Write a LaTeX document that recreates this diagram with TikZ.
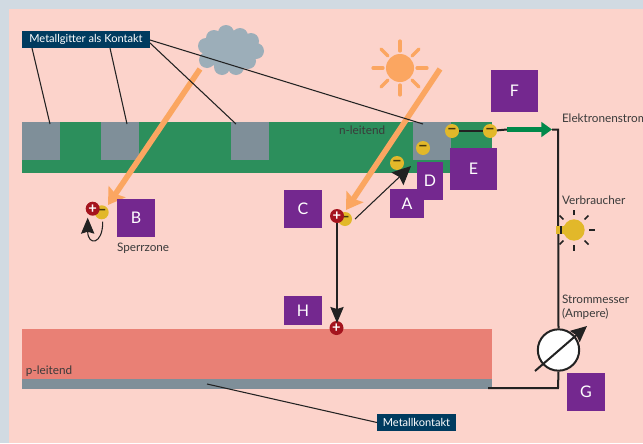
\documentclass[tikz,border=0pt]{standalone}
\usepackage{fontspec}
\setmainfont{Lato}
\usetikzlibrary{arrows.meta}
\definecolor{pagebg}{HTML}{D1DAE2}
\definecolor{pinkbg}{HTML}{FCD3CB}
\definecolor{navy}{HTML}{003B5F}
\definecolor{nlayer}{HTML}{2C8F5C}
\definecolor{metal}{HTML}{7F8F99}
\definecolor{player}{HTML}{E98075}
\definecolor{purp}{HTML}{74288F}
\definecolor{orangeb}{HTML}{FBA661}
\definecolor{cloudc}{HTML}{9CAEB9}
\definecolor{holec}{HTML}{A5141E}
\definecolor{elec}{HTML}{E2B82A}
\definecolor{greenar}{HTML}{00894A}
\definecolor{inkc}{HTML}{222222}
\definecolor{textc}{HTML}{3A3A3A}
\tikzset{
  wh/.style 2 args={minimum width=#1*0.75pt,minimum height=#2*0.75pt,inner sep=0pt,outer sep=0pt},
  letterbox/.style={fill=purp,text=white,font=\fontsize{12}{12}\selectfont},
  navybox/.style={fill=navy,text=white,font=\fontsize{8.3}{8.3}\selectfont},
  capt/.style={anchor=base west,inner sep=0pt,outer sep=0pt,text=textc,font=\fontsize{8.8}{8.8}\selectfont},
  hole/.style={circle,fill=holec,text=white,inner sep=0pt,outer sep=0pt,minimum size=10.5pt,font=\fontsize{11}{11}\selectfont\bfseries},
  electron/.style={circle,fill=elec,text=black!70!elec,inner sep=0pt,outer sep=0pt,minimum size=10.5pt,font=\fontsize{12}{12}\selectfont\bfseries},
  pointer/.style={draw=inkc,line width=0.8pt},
  wire/.style={draw=inkc,line width=1.5pt},
  ray/.style={draw=orangeb,line width=2.4pt,line cap=round},
  bulbray/.style={draw=inkc,line width=1.1pt},
  beam/.style={draw=orangeb,line width=4.2pt,-{Stealth[length=12pt,width=15pt,inset=2pt]}},
  blackhead/.style={-{Stealth[length=12pt,width=10pt,inset=1.5pt,fill=inkc]}},
}
\begin{document}
\begin{tikzpicture}[x=0.75pt,y=-0.75pt]
\useasboundingbox (0,0) rectangle (643,443);
\clip (0,0) rectangle (643,443);
\fill[pagebg] (0,0) rectangle (643,443);
\fill[pinkbg] (9,9) rectangle (643,443);
% layers
\fill[nlayer] (22,122) rectangle (492,173);
\fill[metal] (22,122) rectangle (60,160);
\fill[metal] (101,122) rectangle (139,160);
\fill[metal] (231,122) rectangle (269,160);
\fill[metal] (413,122) rectangle (451,160);
\fill[player] (22,329) rectangle (492,379);
\fill[metal] (22,379) rectangle (492,389);
% cloud
\fill[cloudc] (230,50) ellipse (26 and 20)
  (226,33) circle (8) (240,36) circle (8) (251,41) circle (8) (256,51) circle (8)
  (248,61) circle (8) (236,67) circle (8) (222,67) circle (8) (207,60) circle (8)
  (206,46) circle (8) (214,38) circle (8);
% sun
\fill[orangeb] (400,68) circle (14);
\foreach \a in {0,45,...,315}
  \draw[ray] (400,68) ++(\a:17) -- ++(\a:10);
% beams
\coordinate (beamAs) at (200,69);
\coordinate (beamAe) at (108,205);
\coordinate (beamBs) at (440,69);
\coordinate (beamBe) at (346,210);
\draw[beam] (beamAs) -- (beamAe);
\draw[beam] (beamBs) -- (beamBe);
% label boxes
\node[navybox,wh={128}{17}] (gitter) at (86,39.5) {Metallgitter als Kontakt};
\node[navybox,wh={79}{17}] (kontakt) at (416.5,422.5) {Metallkontakt};
\coordinate (g1) at (50,124);
\coordinate (g2) at (127,124);
\coordinate (g3) at (236,124);
\coordinate (g4) at (423,124);
\coordinate (gs1) at (32,48);
\coordinate (gs2) at (110,48);
\coordinate (gs3) at (150,43);
\coordinate (gs4) at (150,40);
\draw[pointer] (gs1) -- (g1);
\draw[pointer] (gs2) -- (g2);
\draw[pointer] (gs3) -- (g3);
\draw[pointer] (gs4) -- (g4);
\coordinate (mk) at (207,384);
\draw[pointer] (mk) -- (kontakt.west);
% circuit
\node[circle,draw=inkc,fill=white,line width=1.5pt,minimum size=31pt,inner sep=0pt] (meter) at (558.5,350) {};
\node[electron] (e3) at (452,131) {−};
\node[electron] (e4) at (490,131) {−};
\coordinate (corner) at (558,129.5);
\coordinate (gstart) at (507,129.5);
\coordinate (gend) at (552,129.5);
\coordinate (cornerb) at (558,388);
\coordinate (wireend) at (488,388);
\draw[wire,line width=1.6pt] (e3) -- (e4);
\draw[wire] (e4) -- (gstart);
\draw[wire] (gend) -- (corner) -- (meter.north);
\draw[wire] (meter.south) -- (cornerb) -- (wireend);
\draw[draw=greenar,line width=3.4pt,-{Stealth[length=8pt,width=11pt,inset=0pt]}] (gstart) -- (gend);
% meter needle
\coordinate (ns) at (535,371);
\coordinate (ne) at (587,326);
\draw[draw=inkc,line width=1.5pt,-{Stealth[length=12pt,width=11pt,inset=1.5pt,fill=inkc]}] (ns) -- (ne);
% bulb
\fill[elec] (556,226) rectangle (566,234);
\draw[draw=inkc,line width=1.5pt] (561,226) -- (561,234);
\node[circle,fill=elec,minimum size=16pt,inner sep=0pt] (bulb) at (574,230) {};
\foreach \a in {-90,-45,0,45,90,135,225}
  \draw[bulbray] (574,230) ++(\a:15) -- ++(\a:5.5);
% carriers
\node[electron] (pe1) at (101.7,212.3) {−};
\node[hole] (ph1) at (92.7,208.7) {+};
\node[electron] (pe2) at (345,219) {−};
\node[hole] (ph2) at (337,216) {+};
\node[electron] (e1) at (397,163) {−};
\node[electron] (e2) at (423,148) {−};
\node[hole] (h3) at (336.5,328) {+};
% carrier arrows
\coordinate (curvestart) at (102.7,221.7);
\coordinate (curveend) at (87.7,217.7);
\draw[pointer,blackhead] (curvestart) .. controls (103,245) and (87.7,246) .. (curveend);
\coordinate (eas) at (355,219);
\coordinate (eae) at (411,166);
\draw[pointer,-{Stealth[length=14pt,width=13pt,inset=2pt,fill=inkc]}] (eas) -- (eae);
\coordinate (holetip) at (337,323);
\draw[pointer,blackhead] (ph2.south) -- (holetip);
% letter boxes
\node[letterbox,wh={34}{29}] (A) at (407,203.5) {A};
\node[letterbox,wh={38}{38}] (B) at (136,218) {B};
\node[letterbox,wh={38}{38}] (C) at (303,209) {C};
\node[letterbox,wh={26}{38}] (D) at (430,181) {D};
\node[letterbox,wh={47}{42}] (E) at (473.5,169) {E};
\node[letterbox,wh={47}{42}] (F) at (514.5,91) {F};
\node[letterbox,wh={38}{38}] (G) at (586,392) {G};
\node[letterbox,wh={38}{29}] (H) at (303,310.5) {H};
% captions
\node[capt] (cE) at (562,122) {Elektronenstrom};
\node[capt] (cV) at (562,204) {Verbraucher};
\node[capt] (cS) at (562,303) {Strommesser};
\node[capt] (cA) at (562,317) {(Ampere)};
\node[capt] (cZ) at (117,251) {Sperrzone};
\node[capt] (cN) at (339,134) {n-leitend};
\node[capt] (cP) at (26,374) {p-leitend};
\end{tikzpicture}
\end{document}
